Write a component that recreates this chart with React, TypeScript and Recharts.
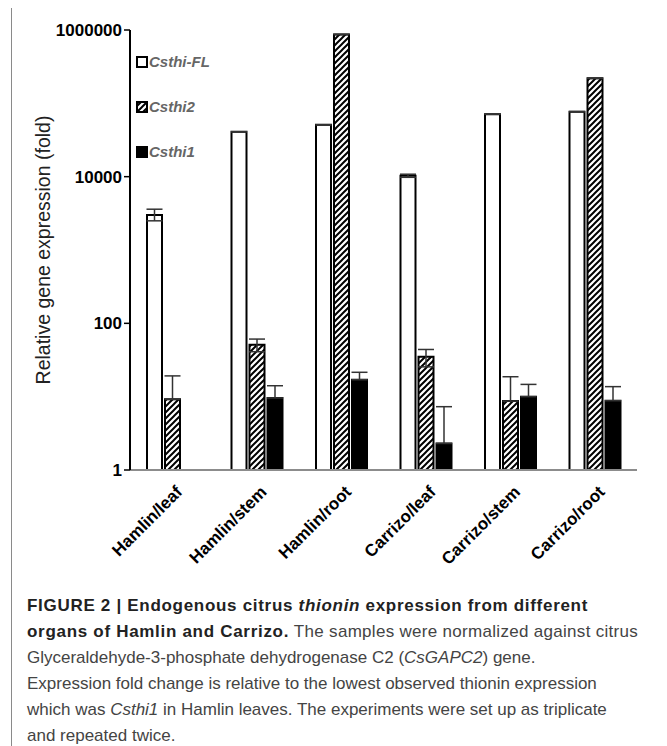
import React from "react";
import { Bar, BarChart, ErrorBar, Legend, XAxis, YAxis } from "recharts";

const categories = ["Hamlin/leaf", "Hamlin/stem", "Hamlin/root", "Carrizo/leaf", "Carrizo/stem", "Carrizo/root"];

// Csthi-FL
const flValues = [3000, 41000, 51000, 10300, 71000, 77000];
const flErrLow = [500, 0, 0, 500, 0, 0];
const flErrHigh = [600, 0, 0, 500, 0, 0];

// Csthi2
const thi2Values = [9.2, 51, 870000, 35, 8.7, 219000];
const thi2ErrLow = [0, 10, 0, 9.5, 0, 0];
const thi2ErrHigh = [10, 10, 0, 9, 10, 0];

// Csthi1
const thi1Values = [1, 9.6, 17, 2.3, 10, 8.8];
const thi1ErrLow = [0, 0, 0, 0, 0, 0];
const thi1ErrHigh = [5, 4.5, 4.5, 5, 4.7, 4.9];

const yTicks = [1, 100, 10000, 1000000];
const legendOrder = ["fl", "thi2", "thi1"];

const data = categories.map((name, i) => ({
  name,
  fl: flValues[i],
  flErr: [flErrLow[i], flErrHigh[i]],
  thi2: thi2Values[i],
  thi2Err: [thi2ErrLow[i], thi2ErrHigh[i]],
  thi1: thi1Values[i],
  thi1Err: [thi1ErrLow[i], thi1ErrHigh[i]],
}));

const font = '"Liberation Sans", Arial, sans-serif';

const swatchFill: Record<string, string> = { fl: "#fff", thi2: "url(#hatch)", thi1: "#000" };

const renderLegend = (props: any) => {
  const items = [...(props.payload || [])].sort(
    (a: any, b: any) => legendOrder.indexOf(a.dataKey) - legendOrder.indexOf(b.dataKey)
  );
  return (
    <div>
      {items.map((entry: any) => (
        <div key={entry.dataKey} style={{ display: "flex", alignItems: "center", height: 45 }}>
          <svg width={12} height={12} style={{ marginRight: 1 }}>
            <rect x={1} y={1} width={10} height={10} fill={swatchFill[entry.dataKey]} stroke="#000" strokeWidth={2} />
          </svg>
          <span style={{ fontFamily: font, fontSize: 15, fontWeight: "bold", fontStyle: "italic", color: "#666" }}>
            {entry.value}
          </span>
        </div>
      ))}
    </div>
  );
};

const XTick = (props: any) => {
  const { x, y, payload } = props;
  return (
    <g transform={`translate(${x},${y})`}>
      <text
        x={0}
        y={0}
        transform="translate(11,23) rotate(-45)"
        textAnchor="end"
        fontFamily={font}
        fontSize={17}
        fontWeight="bold"
        fill="#000"
      >
        {payload.value}
      </text>
    </g>
  );
};

const App = () => {
  return (
    <div
      style={{
        position: "relative",
        marginLeft: 3,
        marginTop: -1,
        width: 653,
        height: 760,
        border: "1px solid #8a8a8a",
        background: "#fff",
      }}
    >
      <BarChart
        width={650}
        height={562}
        data={data}
        margin={{ top: 22, right: 25, left: 0, bottom: 0 }}
        barSize={15}
        barGap={3}
      >
        <defs>
          <pattern id="hatch" patternUnits="userSpaceOnUse" width={6} height={6}>
            <rect width={6} height={6} fill="#fff" />
            <path d="M0,6 L6,0 M-1.5,1.5 L1.5,-1.5 M4.5,7.5 L7.5,4.5" stroke="#000" strokeWidth={2} />
          </pattern>
        </defs>
        <XAxis
          dataKey="name"
          height={100}
          tickLine={false}
          tickSize={0}
          tickMargin={0}
          interval={0}
          axisLine={{ stroke: "#8c8c8c", strokeWidth: 2 }}
          tick={<XTick />}
        />
        <XAxis
          xAxisId="top"
          dataKey="name"
          orientation="top"
          height={0}
          tick={false}
          tickLine={false}
          axisLine={{ stroke: "#000", strokeWidth: 2 }}
        />
        <YAxis
          scale="log"
          domain={[1, 1000000]}
          ticks={yTicks}
          allowDataOverflow
          width={118}
          tickSize={6}
          tickLine={{ stroke: "#000", strokeWidth: 1.5 }}
          axisLine={{ stroke: "#000", strokeWidth: 2 }}
          tick={{ fontFamily: font, fontSize: 17, fontWeight: "bold", fill: "#000" }}
          label={{
            value: "Relative gene expression (fold)",
            angle: -90,
            position: "insideLeft",
            offset: 31,
            style: { textAnchor: "middle", fontFamily: font, fontSize: 19.5, fill: "#222" },
          }}
        />
        <YAxis
          yAxisId="right"
          orientation="right"
          width={0}
          tick={false}
          tickLine={false}
          axisLine={{ stroke: "#000", strokeWidth: 2 }}
        />
        <Legend
          layout="vertical"
          align="center"
          verticalAlign="middle"
          content={renderLegend}
          wrapperStyle={{ position: "absolute", left: 124, top: 31, width: 100 }}
        />
        <Bar dataKey="fl" name="Csthi-FL" fill="#fff" stroke="#000" strokeWidth={2} isAnimationActive={false}>
          <ErrorBar dataKey="flErr" width={8} stroke="#333" strokeWidth={1.5} direction="y" />
        </Bar>
        <Bar dataKey="thi2" name="Csthi2" fill="url(#hatch)" stroke="#000" strokeWidth={2} isAnimationActive={false}>
          <ErrorBar dataKey="thi2Err" width={8} stroke="#333" strokeWidth={1.5} direction="y" />
        </Bar>
        <Bar dataKey="thi1" name="Csthi1" fill="#000" stroke="#000" strokeWidth={2} isAnimationActive={false}>
          <ErrorBar dataKey="thi1Err" width={8} stroke="#333" strokeWidth={1.5} direction="y" />
        </Bar>
      </BarChart>
      <div
        style={{
          position: "absolute",
          left: 15,
          top: 585,
          fontFamily: font,
          fontSize: 17,
          lineHeight: "26px",
          color: "#444",
          whiteSpace: "nowrap",
        }}
      >
        <b style={{ color: "#222", letterSpacing: 0.7 }}>
          FIGURE 2 | Endogenous citrus <i>thionin</i> expression from different
        </b>
        <br />
        <b style={{ color: "#222", letterSpacing: 0.7 }}>organs of Hamlin and Carrizo.</b>{" "}
        <span style={{ letterSpacing: 0.3 }}>The samples were normalized against citrus</span>
        <br />
        Glyceraldehyde-3-phosphate dehydrogenase C2 (<i>CsGAPC2</i>) gene.
        <br />
        Expression fold change is relative to the lowest observed thionin expression
        <br />
        which was <i>Csthi1</i> in Hamlin leaves. The experiments were set up as triplicate
        <br />
        and repeated twice.
      </div>
    </div>
  );
};

export default App;
